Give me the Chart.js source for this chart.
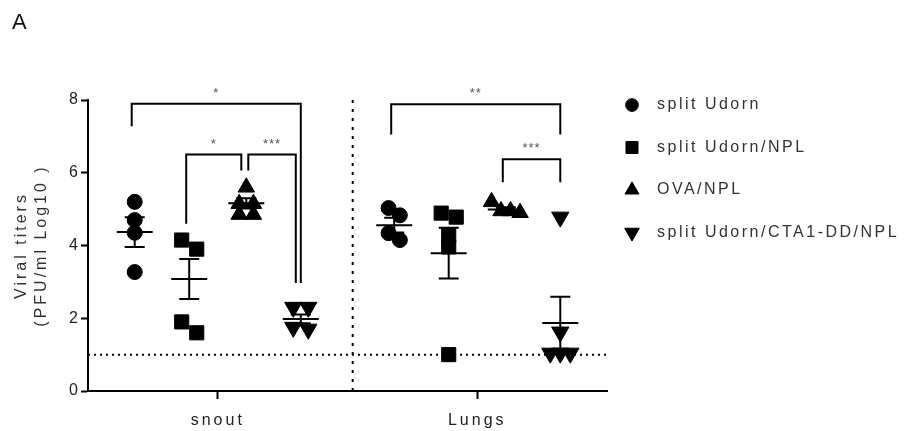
<!DOCTYPE html>
<html lang="en">
<head>
    <meta charset="UTF-8">
    <title>Viral titers - snout and lungs</title>
    <script src="https://cdn.jsdelivr.net/npm/chart.js"></script>
    <style>
        html, body { margin: 0; padding: 0; background: #fff; }
    </style>
</head>
<body>
    <canvas id="titerChart" width="920" height="431"></canvas>

    <script>
        // ---- data ----
        const tissues = ['snout', 'Lungs'];
        const groups = ['split Udorn', 'split Udorn/NPL', 'OVA/NPL', 'split Udorn/CTA1-DD/NPL'];

        // log10 PFU/ml per animal: [snout, lungs]
        const splitUdorn    = [[5.2, 4.7, 4.35, 3.27],        [5.03, 4.83, 4.34, 4.15]];
        const splitUdornNPL = [[3.9, 4.15, 1.6, 1.9],         [4.78, 4.89, 4.29, 3.96, 1.0]];
        const ovaNPL        = [[5.6, 5.15, 5.15, 4.85, 4.85], [5.2, 4.95, 4.95, 4.9]];
        const ctaNPL        = [[2.3, 2.3, 1.75, 1.7],         [4.78, 1.62, 1.04, 1.04, 1.04]];

        // mean and SEM as plotted, [tissue][group]
        const means = [[4.37, 3.08, 5.16, 1.98], [4.56, 3.79, 4.99, 1.87]];
        const sems  = [[0.41, 0.55, 0.14, 0.12], [0.20, 0.70, 0.06, 0.72]];

        const detectionLimit = 1;
        const yTicks = [0, 2, 4, 6, 8];

        // significance brackets: y of the top bar and of each leg end
        const brackets = [
            { tissue: 0, from: 0, to: 3, top: 7.9,  left: 7.28, right: 2.97, label: '*' },
            { tissue: 0, from: 1, to: 2, top: 6.5,  left: 4.6,  right: 6.06, label: '*' },
            { tissue: 0, from: 2, to: 3, top: 6.5,  left: 6.06, right: 2.97, label: '***' },
            { tissue: 1, from: 0, to: 3, top: 7.88, left: 7.05, right: 7.05, label: '**' },
            { tissue: 1, from: 2, to: 3, top: 6.37, left: 5.74, right: 5.74, label: '***' }
        ];

        // ---- layout helpers ----
        const series = [splitUdorn, splitUdornNPL, ovaNPL, ctaNPL];
        const SLOT = [-0.32, -0.11, 0.11, 0.32];   // column offset of each group inside a tissue
        const MARK = [
            { style: 'circle',   r: 7.5, rot: 0 },
            { style: 'rect',     r: 10,  rot: 0 },
            { style: 'triangle', r: 9.5, rot: 0 },
            { style: 'triangle', r: 10,  rot: 180 }
        ];
        const PX_X = 259, PX_Y = 36.4; // rough pixels per unit, only used to spread points

        // points that nearly touch vertically form a row, spread symmetrically
        function spread(values, r) {
            const order = values.map((v, i) => i).sort((a, b) => values[b] - values[a]);
            const rows = [];
            order.forEach((i, k) => {
                const prev = k ? values[order[k - 1]] : null;
                if (prev !== null && (prev - values[i]) * PX_Y < r * 1.1) rows[rows.length - 1].push(i);
                else rows.push([i]);
            });
            const out = new Array(values.length).fill(0);
            rows.forEach(row => {
                const step = row.length > 2 ? r : r * 1.5;
                row.forEach((i, j) => { out[i] = (j - (row.length - 1) / 2) * step / PX_X; });
            });
            return out;
        }

        const pointSets = series.map((s, gi) => {
            const pts = [];
            s.forEach((vals, ti) => {
                const jit = spread(vals, MARK[gi].r);
                vals.forEach((v, i) => pts.push({ x: ti + SLOT[gi] + jit[i], y: v }));
            });
            return pts;
        });

        // ---- plugins ----
        const spacing = {
            id: 'spacing',
            beforeLayout(chart) { chart.ctx.letterSpacing = '3px'; },
            beforeDraw(chart) { chart.ctx.letterSpacing = '3px'; }
        };

        const meanSem = {
            id: 'meanSem',
            afterDatasetsDraw(chart) {
                const { ctx, scales: { x, y } } = chart;
                ctx.save();
                ctx.strokeStyle = '#000';
                ctx.lineWidth = 2;
                ctx.setLineDash([]);
                means.forEach((row, ti) => row.forEach((m, gi) => {
                    const cx = x.getPixelForValue(ti + SLOT[gi]);
                    const ym = y.getPixelForValue(m);
                    const yt = y.getPixelForValue(m + sems[ti][gi]);
                    const yb = y.getPixelForValue(m - sems[ti][gi]);
                    ctx.beginPath();
                    ctx.moveTo(cx - 18, ym); ctx.lineTo(cx + 18, ym);
                    ctx.moveTo(cx, yt); ctx.lineTo(cx, yb);
                    ctx.moveTo(cx - 10, yt); ctx.lineTo(cx + 10, yt);
                    ctx.moveTo(cx - 10, yb); ctx.lineTo(cx + 10, yb);
                    ctx.stroke();
                }));
                ctx.restore();
            }
        };

        const sigBars = {
            id: 'sigBars',
            afterDraw(chart) {
                const { ctx, scales: { x, y } } = chart;
                const len = b => b.to - b.from;
                // two legs landing on the same column at overlapping heights: pull the shorter bracket inward
                const legSpan = (b, g) => g === b.from ? [b.left, b.top] : [b.right, b.top];
                const shift = (b, g, side) => {
                    const [lo, hi] = legSpan(b, g);
                    const other = brackets.find(o => o !== b && o.tissue === b.tissue && (o.from === g || o.to === g) &&
                        legSpan(o, g)[0] < hi && legSpan(o, g)[1] > lo);
                    if (!other || len(b) > len(other)) return 0;
                    return side * 5;
                };
                ctx.save();
                ctx.strokeStyle = '#000';
                ctx.lineWidth = 2;
                ctx.setLineDash([]);
                brackets.forEach(b => {
                    const x1 = x.getPixelForValue(b.tissue + SLOT[b.from]) + shift(b, b.from, 1) - 3;
                    const x2 = x.getPixelForValue(b.tissue + SLOT[b.to]) + shift(b, b.to, -1);
                    const yTop = y.getPixelForValue(b.top);
                    ctx.beginPath();
                    ctx.moveTo(x1, y.getPixelForValue(b.left));
                    ctx.lineTo(x1, yTop);
                    ctx.lineTo(x2, yTop);
                    ctx.lineTo(x2, y.getPixelForValue(b.right));
                    ctx.stroke();
                    ctx.fillStyle = '#555';
                    ctx.font = '13px "Liberation Sans", Arial, sans-serif';
                    ctx.letterSpacing = '1px';
                    ctx.textAlign = 'center';
                    ctx.textBaseline = 'alphabetic';
                    ctx.fillText(b.label, (x1 + x2) / 2, yTop - 7);
                });
                ctx.restore();
            }
        };

        const sideLegend = {
            id: 'sideLegend',
            afterDraw(chart) {
                const ctx = chart.ctx;
                const drawPoint = Chart.helpers && Chart.helpers.drawPoint;
                ctx.save();
                ctx.font = '16px "Liberation Sans", Arial, sans-serif';
                ctx.letterSpacing = '2.5px';
                ctx.textBaseline = 'middle';
                ctx.textAlign = 'left';
                groups.forEach((name, gi) => {
                    const yy = 105 + gi * 42.5;
                    ctx.fillStyle = '#000';
                    ctx.strokeStyle = '#000';
                    ctx.lineWidth = 1;
                    if (drawPoint) {
                        drawPoint(ctx, { pointStyle: MARK[gi].style, rotation: MARK[gi].rot, radius: MARK[gi].r * 0.85, borderWidth: 1 }, 632, yy);
                    }
                    ctx.fillStyle = '#333';
                    ctx.fillText(name, 657, yy);
                });
                ctx.restore();
            }
        };

        // ---- chart ----
        const datasets = groups.map((name, gi) => ({
            label: name,
            data: pointSets[gi],
            pointStyle: MARK[gi].style,
            pointRotation: MARK[gi].rot,
            pointRadius: MARK[gi].r,
            pointHoverRadius: MARK[gi].r,
            pointBackgroundColor: '#000',
            pointBorderColor: '#000',
            pointBorderWidth: 1
        }));
        datasets.push({
            type: 'line',
            label: 'detection limit',
            data: [{ x: -0.5, y: detectionLimit }, { x: 1.5, y: detectionLimit }],
            borderColor: '#000',
            borderWidth: 2,
            borderDash: [2, 4],
            pointRadius: 0
        });
        datasets.push({
            type: 'line',
            label: 'divider',
            data: [{ x: 0.52, y: 0 }, { x: 0.52, y: 8 }],
            borderColor: '#000',
            borderWidth: 2,
            borderDash: [3, 6],
            pointRadius: 0
        });

        new Chart(document.getElementById('titerChart'), {
            type: 'scatter',
            data: { datasets },
            options: {
                responsive: false,
                animation: false,
                layout: { padding: { top: 0, left: 12, right: 313, bottom: 0 } },
                plugins: {
                    legend: { display: false },
                    tooltip: { enabled: false },
                    title: {
                        display: true,
                        text: 'A',
                        align: 'start',
                        color: '#111',
                        font: { family: '"Liberation Sans", Arial, sans-serif', size: 22, weight: 'normal' },
                        padding: { top: 10, bottom: 63.6 }
                    }
                },
                scales: {
                    x: {
                        type: 'linear',
                        min: -0.5,
                        max: 1.5,
                        afterFit: s => { s.height = 40; },
                        afterBuildTicks: s => { s.ticks = tissues.map((t, i) => ({ value: i })); },
                        ticks: {
                            callback: v => tissues[v],
                            color: '#222',
                            padding: 12,
                            font: { family: '"Liberation Sans", Arial, sans-serif', size: 16 }
                        },
                        grid: { drawOnChartArea: false, tickLength: 8, tickWidth: 2, tickColor: '#000' },
                        border: { color: '#000', width: 2 }
                    },
                    y: {
                        min: 0,
                        max: 8,
                        afterFit: s => { s.width = 76; },
                        afterBuildTicks: s => { s.ticks = yTicks.map(v => ({ value: v })); },
                        ticks: {
                            color: '#222',
                            padding: 0,
                            font: { family: '"Liberation Sans", Arial, sans-serif', size: 16 }
                        },
                        grid: { drawOnChartArea: false, tickLength: 7, tickWidth: 2, tickColor: '#000' },
                        border: { color: '#000', width: 2 },
                        title: {
                            display: true,
                            text: ['Viral titers', '(PFU/ml Log10 )'],
                            color: '#333',
                            padding: { top: 0, bottom: 0 },
                            font: { family: '"Liberation Sans", Arial, sans-serif', size: 16, lineHeight: 1.25 }
                        }
                    }
                }
            },
            plugins: [spacing, meanSem, sigBars, sideLegend]
        });
    </script>
</body>
</html>
